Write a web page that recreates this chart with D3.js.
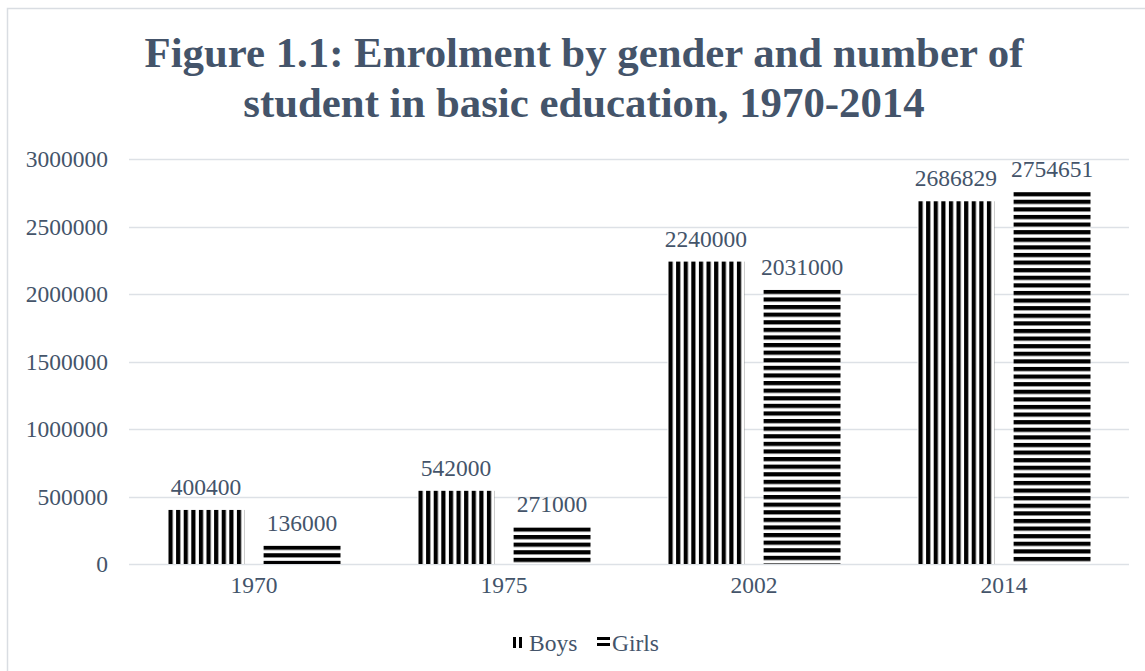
<!DOCTYPE html>
<html>
<head>
<meta charset="utf-8">
<script src="https://cdn.jsdelivr.net/npm/d3@7"></script>
<style>
  html, body { margin: 0; padding: 0; background: #fff; }
  svg { display: block; }
</style>
</head>
<body>
<svg id="chart" width="1145" height="671"></svg>
<script>
// Enrolment in basic education by gender
const years = ["1970", "1975", "2002", "2014"];
const seriesNames = ["Boys", "Girls"];
const boys = [400400, 542000, 2240000, 2686829];
const girls = [136000, 271000, 2031000, 2754651];
const yTicks = [0, 500000, 1000000, 1500000, 2000000, 2500000, 3000000];
const titleLines = ["Figure 1.1: Enrolment by gender and number of", "student in basic education, 1970-2014"];

const W = 1145, H = 671;
const textColor = "#44546a";
const gridColor = "#dde1e6";
const serif = "'Liberation Serif', 'Times New Roman', serif";

const svg = d3.select("#chart");
const defs = svg.append("defs");

// stripe fill anchored at (ox, oy): vertical for boys, horizontal for girls
function stripes(id, vertical, period, thick, ox, oy) {
  const p = defs.append("pattern")
    .attr("id", id)
    .attr("patternUnits", "userSpaceOnUse")
    .attr("x", ox).attr("y", oy)
    .attr("width", period).attr("height", period);
  p.append("rect").attr("width", period).attr("height", period).attr("fill", "#fff");
  if (vertical) p.append("rect").attr("x", 0).attr("y", 0).attr("width", thick).attr("height", period).attr("fill", "#000");
  else p.append("rect").attr("x", 0).attr("y", 0).attr("width", period).attr("height", thick).attr("fill", "#000");
  return `url(#${id})`;
}

// chart frame
svg.append("rect")
  .attr("x", 7.5).attr("y", 8.5)
  .attr("width", W + 20).attr("height", H + 20)
  .attr("fill", "none").attr("stroke", "#d9dde2").attr("stroke-width", 1.5);

// title
const title = svg.append("text")
  .attr("text-anchor", "middle")
  .attr("font-family", serif)
  .attr("font-weight", "bold")
  .attr("font-size", 42.8)
  .attr("fill", textColor);
titleLines.forEach((t, i) => {
  title.append("tspan").attr("x", 584).attr("y", 67 + i * 50).text(t);
});

// scales
const plotLeft = 129, plotRight = 1129, plotTop = 159, plotBottom = 564;
const y = d3.scaleLinear().domain([0, 3000000]).range([plotBottom, plotTop]);
const x0 = d3.scaleBand().domain(years).range([plotLeft, plotRight])
  .paddingInner(0.308).paddingOuter(0.154);
const x1 = d3.scaleBand().domain(seriesNames).range([0, x0.bandwidth()]).paddingInner(0.2);

// gridlines
svg.append("g")
  .selectAll("line")
  .data(yTicks)
  .join("line")
  .attr("x1", plotLeft).attr("x2", plotRight)
  .attr("y1", d => Math.round(y(d)) + 0.5).attr("y2", d => Math.round(y(d)) + 0.5)
  .attr("stroke", gridColor).attr("stroke-width", 1.5);

// y axis labels
const yAxis = svg.append("g")
  .attr("transform", `translate(${plotLeft},0)`)
  .call(d3.axisLeft(y).tickValues(yTicks).tickFormat(d3.format("d")).tickSize(0).tickPadding(21));
yAxis.select(".domain").remove();
yAxis.selectAll("text")
  .attr("font-family", serif).attr("font-size", 23.5).attr("fill", textColor);

// x axis labels
const xAxis = svg.append("g")
  .attr("transform", `translate(0,${plotBottom})`)
  .call(d3.axisBottom(x0).tickSize(0).tickPadding(12));
xAxis.select(".domain").remove();
xAxis.selectAll("text")
  .attr("font-family", serif).attr("font-size", 23.5).attr("fill", textColor);

// bars
const rows = years.map((yr, i) => ({ year: yr, values: [
  { name: "Boys", value: boys[i], idx: i },
  { name: "Girls", value: girls[i], idx: i }
]}));

const groups = svg.append("g")
  .selectAll("g")
  .data(rows)
  .join("g")
  .attr("transform", d => `translate(${x0(d.year)},0)`);

groups.selectAll("rect")
  .data(d => d.values)
  .join("rect")
  .attr("x", d => x1(d.name))
  .attr("y", d => y(d.value))
  .attr("width", x1.bandwidth())
  .attr("height", d => y(0) - y(d.value))
  .attr("fill", d => stripes(`fill-${d.name}-${d.idx}`, d.name === "Boys", 7.6, 4.2,
    d.name === "Boys" ? x1(d.name) + 1 : x1(d.name), y(d.value)));

groups.selectAll("text.value")
  .data(d => d.values)
  .join("text")
  .attr("class", "value")
  .attr("x", d => x1(d.name) + x1.bandwidth() / 2)
  .attr("y", d => y(d.value) - 15)
  .attr("text-anchor", "middle")
  .attr("font-family", serif).attr("font-size", 23.5).attr("fill", textColor)
  .text(d => d.value);

// legend
const legend = svg.append("g").attr("transform", "translate(0,643)");
const keyX = { Boys: 513, Girls: 597 };
seriesNames.forEach(name => {
  const g = legend.append("g").attr("transform", `translate(${keyX[name]},0)`);
  const vertical = name === "Boys";
  const w = vertical ? 10 : 13, h = vertical ? 11 : 9;
  g.append("rect").attr("x", 0).attr("y", -6).attr("width", w).attr("height", h)
    .attr("fill", stripes(`key-${name}`, vertical, 6, 3, 0, -6));
  g.append("text").attr("x", vertical ? 16 : 15).attr("y", 8)
    .attr("font-family", serif).attr("font-size", 23.5).attr("fill", textColor)
    .text(name);
});
</script>
</body>
</html>
